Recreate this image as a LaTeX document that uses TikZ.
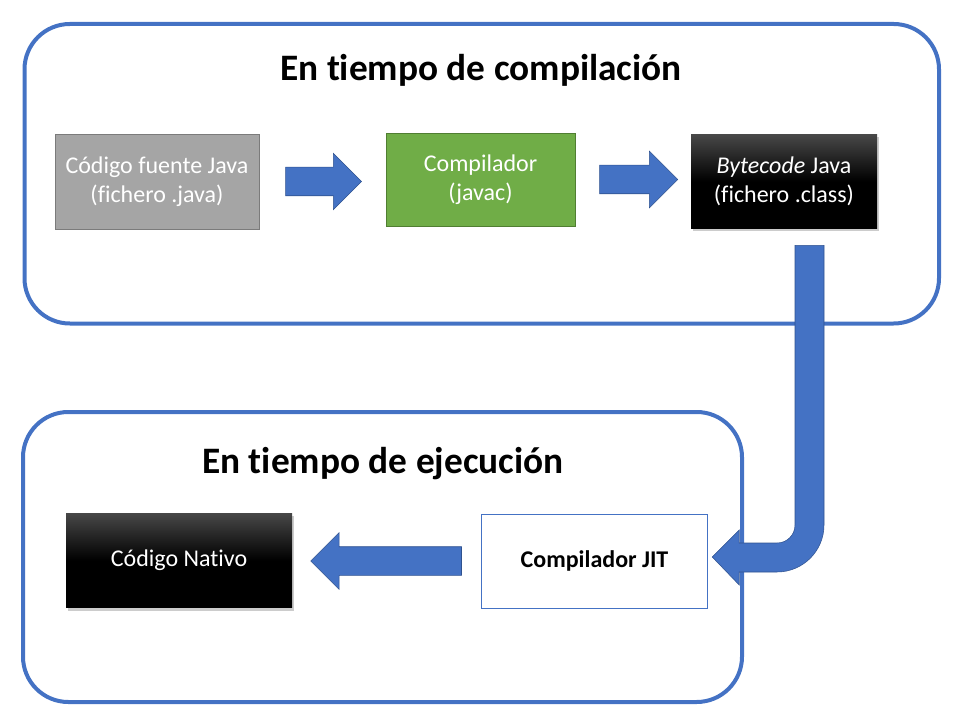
\documentclass[tikz,border=0pt]{standalone}
\usepackage{fontspec}
\setmainfont{Carlito}[Ligatures=NoCommon]
\usepackage{tikz}
\usetikzlibrary{calc,positioning,shapes,shapes.arrows,shadows}

\definecolor{frameblue}{HTML}{4472C4}
\definecolor{arrowedge}{HTML}{2F528F}
\definecolor{srcgray}{HTML}{A5A5A5}
\definecolor{srcedge}{HTML}{7B7B7B}
\definecolor{javacgreen}{HTML}{70AD47}
\definecolor{javacedge}{HTML}{507E32}

\begin{document}
\begin{tikzpicture}[x=0.75pt,y=-0.75pt,
	frame/.style={draw=frameblue,line width=3pt,rounded corners=34pt},
	title/.style={font=\fontsize{28}{33}\selectfont\bfseries},
	box/.style={rectangle,align=center,inner sep=0pt,font=\fontsize{18}{21.5}\selectfont},
	source/.style={box,fill=srcgray,draw=srcedge,text=white,minimum width=153pt,minimum height=71pt},
	compiler/.style={box,fill=javacgreen,draw=javacedge,text=white,minimum width=142pt,minimum height=70pt},
	binary/.style={box,top color=black!72,bottom color=black,middle color=black,text=white,
		drop shadow={shadow xshift=1.5pt,shadow yshift=-2pt,opacity=.4}},
	jitbox/.style={box,fill=white,draw=frameblue,line width=.6pt,minimum width=170pt,minimum height=70.5pt},
	blockarrow/.style={single arrow,fill=frameblue,draw=arrowedge,line width=.4pt,inner xsep=0pt,inner ysep=10.5pt,
		single arrow head extend=10.5pt},
	bentarrow/.style={fill=frameblue,draw=arrowedge,line width=.4pt}
	]
\useasboundingbox (0,0) rectangle (960,720);

\draw [frame] (24.5,24) rectangle (939,323.5);
\draw [frame] (23,412) rectangle (742,702);

\node [title] (compiletitle) at (481,70) {En tiempo de compilación};
\node [title] (runtitle) at (383,464) {En tiempo de ejecución};

\node [source] (src) at (157,181.5) {Código fuente Java\\(fichero .java)};
\node [compiler] (javac) at (480.5,179.5) {Compilador\\(javac)};
\node [binary,minimum width=139.5pt,minimum height=70pt] (bytecode) at (784,181.5) {\textit{Bytecode} Java\\(fichero .class)};

\node [jitbox] (jit) at (594.5,561) {\textbf{Compilador JIT}};
\node [binary,minimum width=169.5pt,minimum height=71pt] (native) at (179,560.5) {Código Nativo};

\node [blockarrow,minimum height=57pt] (a1) [right = 19.5pt of src] {};
\node [blockarrow,minimum height=58.5pt] (a2) [right = 18pt of javac] {};
\node [blockarrow,minimum height=113pt,shape border rotate=180] (a3) [left = 14.25pt of jit] {};

% bent arrow from the bytecode down into the JIT compiler
\coordinate (bendtop) at ($(bytecode.south)+(25.5,17)$);
\coordinate (bendtip) at ($(jit.east)+(4,-4)$);
\coordinate (corner) at (bendtop |- bendtip);
\draw [bentarrow] ($(bendtop)+(-14.5,0)$) -- ($(bendtop)+(14.5,0)$)
	-- ($(corner)+(14.5,-32)$) .. controls ($(corner)+(14.5,-6)$) and ($(corner)+(-6.5,15)$) .. ($(corner)+(-32.5,15)$)
	-- ($(bendtip)+(27,15)$) -- ($(bendtip)+(27,28)$) -- (bendtip) -- ($(bendtip)+(27,-27)$) -- ($(bendtip)+(27,-14)$)
	-- ($(corner)+(-32.5,-14)$) .. controls ($(corner)+(-22.5,-14)$) and ($(corner)+(-14.5,-22)$) .. ($(corner)+(-14.5,-32)$)
	-- cycle;
\end{tikzpicture}
\end{document}
